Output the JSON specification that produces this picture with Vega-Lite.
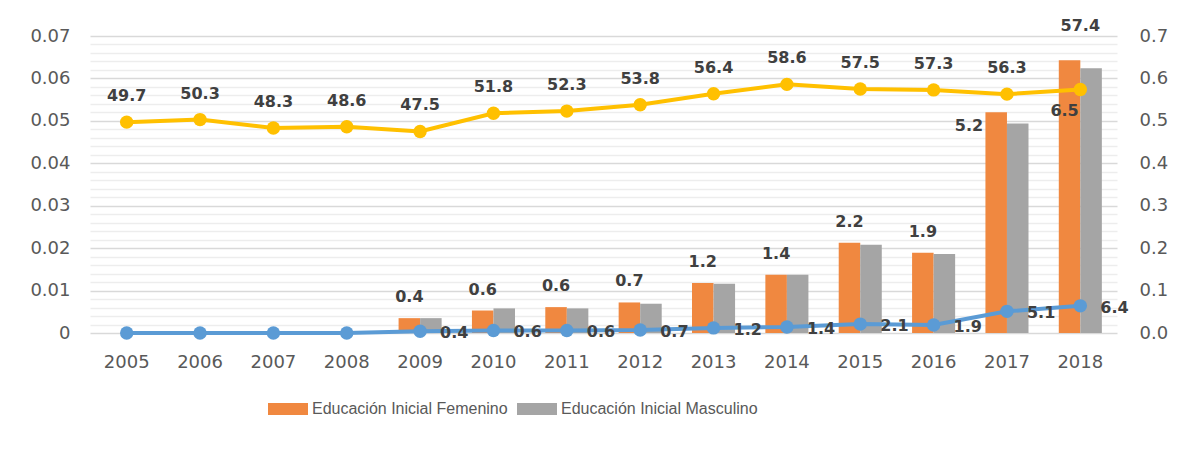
{
  "$schema": "https://vega.github.io/schema/vega-lite/v6.json",
  "width": 1027,
  "height": 297,
  "autosize": {"type": "none"},
  "padding": {"left": 90, "top": 36, "right": 60, "bottom": 135},
  "background": "white",
  "config": {"view": {"stroke": null}},
  "datasets": {
    "bars": [
      {"year": "2005", "series": "Educación Inicial Femenino", "value": 0, "label": null},
      {"year": "2005", "series": "Educación Inicial Masculino", "value": 0, "label": null},
      {"year": "2006", "series": "Educación Inicial Femenino", "value": 0, "label": null},
      {"year": "2006", "series": "Educación Inicial Masculino", "value": 0, "label": null},
      {"year": "2007", "series": "Educación Inicial Femenino", "value": 0, "label": null},
      {"year": "2007", "series": "Educación Inicial Masculino", "value": 0, "label": null},
      {"year": "2008", "series": "Educación Inicial Femenino", "value": 0, "label": null},
      {"year": "2008", "series": "Educación Inicial Masculino", "value": 0, "label": null},
      {"year": "2009", "series": "Educación Inicial Femenino", "value": 0.0035, "label": 0.4},
      {"year": "2009", "series": "Educación Inicial Masculino", "value": 0.0035, "label": null},
      {"year": "2010", "series": "Educación Inicial Femenino", "value": 0.0053, "label": 0.6},
      {"year": "2010", "series": "Educación Inicial Masculino", "value": 0.0058, "label": null},
      {"year": "2011", "series": "Educación Inicial Femenino", "value": 0.0061, "label": 0.6},
      {"year": "2011", "series": "Educación Inicial Masculino", "value": 0.0058, "label": null},
      {"year": "2012", "series": "Educación Inicial Femenino", "value": 0.0072, "label": 0.7},
      {"year": "2012", "series": "Educación Inicial Masculino", "value": 0.0069, "label": null},
      {"year": "2013", "series": "Educación Inicial Femenino", "value": 0.0118, "label": 1.2},
      {"year": "2013", "series": "Educación Inicial Masculino", "value": 0.0116, "label": null},
      {"year": "2014", "series": "Educación Inicial Femenino", "value": 0.0137, "label": 1.4},
      {"year": "2014", "series": "Educación Inicial Masculino", "value": 0.0137, "label": null},
      {"year": "2015", "series": "Educación Inicial Femenino", "value": 0.0213, "label": 2.2},
      {"year": "2015", "series": "Educación Inicial Masculino", "value": 0.0208, "label": null},
      {"year": "2016", "series": "Educación Inicial Femenino", "value": 0.0189, "label": 1.9},
      {"year": "2016", "series": "Educación Inicial Masculino", "value": 0.0186, "label": null},
      {"year": "2017", "series": "Educación Inicial Femenino", "value": 0.052, "label": 5.2},
      {"year": "2017", "series": "Educación Inicial Masculino", "value": 0.0494, "label": null},
      {"year": "2018", "series": "Educación Inicial Femenino", "value": 0.0643, "label": 6.5},
      {"year": "2018", "series": "Educación Inicial Masculino", "value": 0.0624, "label": null}
    ],
    "lines": [
      {"year": "2005", "series": "Educación Inicial", "value": 0, "label": null},
      {"year": "2006", "series": "Educación Inicial", "value": 0, "label": null},
      {"year": "2007", "series": "Educación Inicial", "value": 0, "label": null},
      {"year": "2008", "series": "Educación Inicial", "value": 0, "label": null},
      {"year": "2009", "series": "Educación Inicial", "value": 0.004, "label": 0.4},
      {"year": "2010", "series": "Educación Inicial", "value": 0.006, "label": 0.6},
      {"year": "2011", "series": "Educación Inicial", "value": 0.006, "label": 0.6},
      {"year": "2012", "series": "Educación Inicial", "value": 0.007, "label": 0.7},
      {"year": "2013", "series": "Educación Inicial", "value": 0.012, "label": 1.2},
      {"year": "2014", "series": "Educación Inicial", "value": 0.014, "label": 1.4},
      {"year": "2015", "series": "Educación Inicial", "value": 0.021, "label": 2.1},
      {"year": "2016", "series": "Educación Inicial", "value": 0.019, "label": 1.9},
      {"year": "2017", "series": "Educación Inicial", "value": 0.051, "label": 5.1},
      {"year": "2018", "series": "Educación Inicial", "value": 0.064, "label": 6.4},
      {"year": "2005", "series": "Educación Parvularia", "value": 0.497, "label": 49.7},
      {"year": "2006", "series": "Educación Parvularia", "value": 0.503, "label": 50.3},
      {"year": "2007", "series": "Educación Parvularia", "value": 0.483, "label": 48.3},
      {"year": "2008", "series": "Educación Parvularia", "value": 0.486, "label": 48.6},
      {"year": "2009", "series": "Educación Parvularia", "value": 0.475, "label": 47.5},
      {"year": "2010", "series": "Educación Parvularia", "value": 0.518, "label": 51.8},
      {"year": "2011", "series": "Educación Parvularia", "value": 0.523, "label": 52.3},
      {"year": "2012", "series": "Educación Parvularia", "value": 0.538, "label": 53.8},
      {"year": "2013", "series": "Educación Parvularia", "value": 0.564, "label": 56.4},
      {"year": "2014", "series": "Educación Parvularia", "value": 0.586, "label": 58.6},
      {"year": "2015", "series": "Educación Parvularia", "value": 0.575, "label": 57.5},
      {"year": "2016", "series": "Educación Parvularia", "value": 0.573, "label": 57.3},
      {"year": "2017", "series": "Educación Parvularia", "value": 0.563, "label": 56.3},
      {"year": "2018", "series": "Educación Parvularia", "value": 0.574, "label": 57.4}
    ]
  },
  "encoding": {
    "x": {"field": "year", "type": "nominal", "scale": {"paddingInner": 0.413, "paddingOuter": 0.2065},
      "axis": {"title": null, "labelFont": "DejaVu Sans", "labelFontSize": 18, "labelColor": "#595959", "ticks": false, "domain": false, "labelPadding": 20, "labelAngle": 0, "grid": false}}
  },
  "layer": [
    {
      "data": {"name": "bars"},
      "mark": {"type": "bar"},
      "encoding": {
        "xOffset": {"field": "series", "type": "nominal", "scale": {"domain": ["Educación Inicial Femenino", "Educación Inicial Masculino"], "paddingInner": 0, "paddingOuter": 0}},
        "y": {"field": "value", "type": "quantitative", "scale": {"domain": [0, 0.07], "nice": false},
          "axis": {"title": null, "orient": "left",
            "values": [0,0.002,0.004,0.006,0.008,0.01,0.012,0.014,0.016,0.018,0.02,0.022,0.024,0.026,0.028,0.03,0.032,0.034,0.036,0.038,0.04,0.042,0.044,0.046,0.048,0.05,0.052,0.054,0.056,0.058,0.06,0.062,0.064,0.066,0.068,0.07],
            "labelExpr": "round(datum.value*1000) % 10 == 0 ? format(datum.value, '.2~f') : ''",
            "gridColor": {"condition": {"test": "round(datum.value*1000) % 10 == 0", "value": "#d9d9d9"}, "value": "#ededed"},
            "grid": true, "gridWidth": 1.3, "ticks": false, "domain": false, "labelFont": "DejaVu Sans", "labelFontSize": 18, "labelColor": "#595959", "labelPadding": 20, "labelOverlap": false}},
        "color": {"field": "series", "type": "nominal",
          "scale": {"domain": ["Educación Inicial Femenino", "Educación Inicial Masculino"], "range": ["#F08840", "#A5A5A5"]},
          "legend": {"orient": "none", "legendX": 178, "legendY": 353, "direction": "horizontal", "title": null, "symbolSize": 1600, "symbolType": "M-1,-0.3H1V0.3H-1Z", "labelFont": "Liberation Sans", "labelFontSize": 16, "labelColor": "#595959", "labelOffset": 4, "labelLimit": 400, "columnPadding": 9, "symbolOpacity": 1, "symbolStrokeWidth": 0, "padding": 0}}
      }
    },
    {
      "data": {"name": "bars"},
      "transform": [{"filter": "datum.label != null && toNumber(datum.year) <= 2016"}],
      "mark": {"type": "text", "font": "DejaVu Sans", "fontSize": 16, "fontWeight": "bold", "color": "#404040", "baseline": "alphabetic", "dy": -16},
      "encoding": {
        "xOffset": {"field": "series", "type": "nominal", "scale": {"domain": ["Educación Inicial Femenino", "Educación Inicial Masculino"], "paddingInner": 0, "paddingOuter": 0}},
        "y": {"field": "value", "type": "quantitative", "scale": {"domain": [0, 0.07], "nice": false}, "axis": null},
        "text": {"field": "label", "type": "quantitative", "format": ".1f"}
      }
    },
    {
      "data": {"name": "bars"},
      "transform": [{"filter": "datum.label != null && datum.year == '2017'"}],
      "mark": {"type": "text", "font": "DejaVu Sans", "fontSize": 16, "fontWeight": "bold", "color": "#404040", "align": "right", "baseline": "middle", "dx": -13, "dy": 14},
      "encoding": {
        "xOffset": {"field": "series", "type": "nominal", "scale": {"domain": ["Educación Inicial Femenino", "Educación Inicial Masculino"], "paddingInner": 0, "paddingOuter": 0}},
        "y": {"field": "value", "type": "quantitative", "scale": {"domain": [0, 0.07], "nice": false}, "axis": null},
        "text": {"field": "label", "type": "quantitative", "format": ".1f"}
      }
    },
    {
      "data": {"name": "bars"},
      "transform": [{"filter": "datum.label != null && datum.year == '2018'"}],
      "mark": {"type": "text", "font": "DejaVu Sans", "fontSize": 16, "fontWeight": "bold", "color": "#404040", "align": "center", "baseline": "middle", "dx": -5, "dy": 51},
      "encoding": {
        "xOffset": {"field": "series", "type": "nominal", "scale": {"domain": ["Educación Inicial Femenino", "Educación Inicial Masculino"], "paddingInner": 0, "paddingOuter": 0}},
        "y": {"field": "value", "type": "quantitative", "scale": {"domain": [0, 0.07], "nice": false}, "axis": null},
        "text": {"field": "label", "type": "quantitative", "format": ".1f"}
      }
    },
    {
      "data": {"name": "lines"},
      "mark": {"type": "line", "strokeWidth": 4},
      "encoding": {
        "y": {"field": "value", "type": "quantitative", "scale": {"domain": [0, 0.7], "nice": false},
          "axis": {"title": null, "orient": "right", "values": [0, 0.1, 0.2, 0.3, 0.4, 0.5, 0.6, 0.7], "format": ".1f", "grid": false, "ticks": false, "domain": false, "labelFont": "DejaVu Sans", "labelFontSize": 18, "labelColor": "#595959", "labelPadding": 22}},
        "stroke": {"field": "series", "type": "nominal", "scale": {"domain": ["Educación Inicial", "Educación Parvularia"], "range": ["#5B9BD5", "#FFC000"]}, "legend": null}
      }
    },
    {
      "data": {"name": "lines"},
      "mark": {"type": "point", "filled": true, "size": 180, "opacity": 1, "strokeWidth": 0},
      "encoding": {
        "y": {"field": "value", "type": "quantitative", "scale": {"domain": [0, 0.7], "nice": false}, "axis": null},
        "fill": {"field": "series", "type": "nominal", "scale": {"domain": ["Educación Inicial", "Educación Parvularia"], "range": ["#5B9BD5", "#FFC000"]},
          "legend": {"orient": "none", "legendX": 178, "legendY": 393, "direction": "horizontal", "title": null, "symbolSize": 1600, "symbolType": "M-1,-0.1H-0.3V-0.3H0.3V-0.1H1V0.1H0.3V0.3H-0.3V0.1H-1Z", "labelFont": "Liberation Sans", "labelFontSize": 16, "labelColor": "#595959", "labelOffset": 4, "labelLimit": 400, "columnPadding": 85, "symbolOpacity": 1, "symbolStrokeWidth": 0, "padding": 0}}
      }
    },
    {
      "data": {"name": "lines"},
      "transform": [{"filter": "datum.series == 'Educación Parvularia' && datum.year != '2018'"}],
      "mark": {"type": "text", "font": "DejaVu Sans", "fontSize": 16, "fontWeight": "bold", "color": "#404040", "baseline": "alphabetic", "dy": -21},
      "encoding": {
        "y": {"field": "value", "type": "quantitative", "scale": {"domain": [0, 0.7], "nice": false}, "axis": null},
        "text": {"field": "label", "type": "quantitative", "format": ".1f"}
      }
    },
    {
      "data": {"name": "lines"},
      "transform": [{"filter": "datum.series == 'Educación Parvularia' && datum.year == '2018'"}],
      "mark": {"type": "text", "font": "DejaVu Sans", "fontSize": 16, "fontWeight": "bold", "color": "#404040", "baseline": "alphabetic", "dy": -58},
      "encoding": {
        "y": {"field": "value", "type": "quantitative", "scale": {"domain": [0, 0.7], "nice": false}, "axis": null},
        "text": {"field": "label", "type": "quantitative", "format": ".1f"}
      }
    },
    {
      "data": {"name": "lines"},
      "transform": [{"filter": "datum.series == 'Educación Inicial' && datum.label != null"}],
      "mark": {"type": "text", "font": "DejaVu Sans", "fontSize": 16, "fontWeight": "bold", "color": "#404040", "align": "left", "baseline": "middle", "dx": 20, "dy": 2},
      "encoding": {
        "y": {"field": "value", "type": "quantitative", "scale": {"domain": [0, 0.7], "nice": false}, "axis": null},
        "text": {"field": "label", "type": "quantitative", "format": ".1f"}
      }
    }
  ],
  "resolve": {"scale": {"y": "independent", "xOffset": "shared"}}
}
